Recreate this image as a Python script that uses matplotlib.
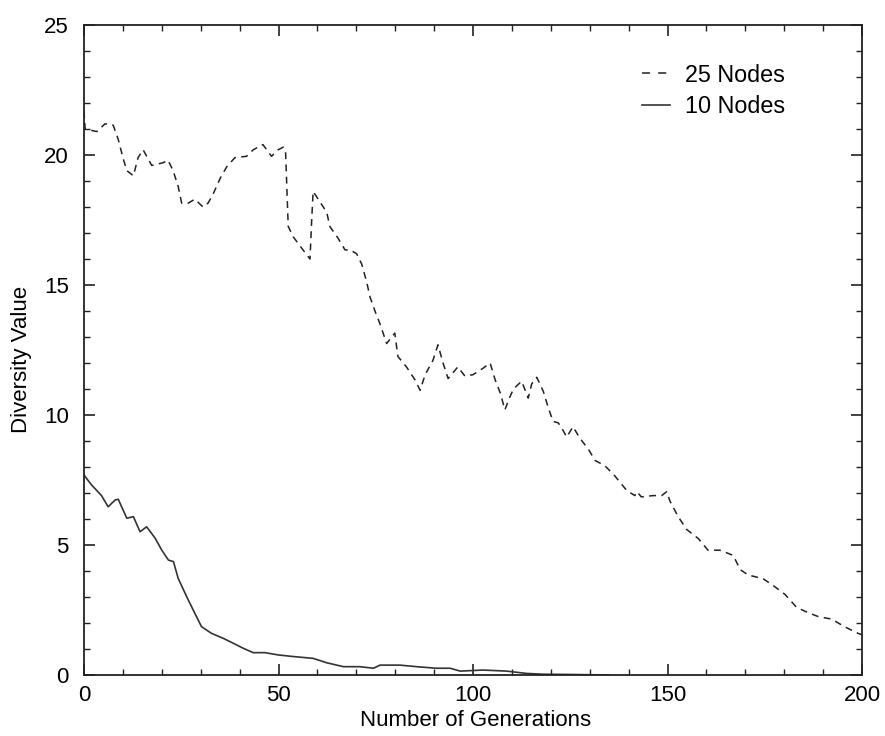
import matplotlib
matplotlib.use("Agg")
import matplotlib.pyplot as plt
from matplotlib.ticker import MultipleLocator
from matplotlib.lines import Line2D

plt.rcParams['font.family'] = ['Liberation Sans', 'DejaVu Sans']

gen_25 = [0, 0.3, 3.3, 5.4, 7.5, 8.8, 10, 11, 12.7, 13.9,
          15.2, 17.4, 20.3, 21.6, 22.9, 24.2, 25.1, 26.8, 28.5, 30.6,
          31.9, 33.2, 35, 36.7, 38.8, 41.8, 43.5, 46, 48.2, 49.9,
          51.2, 51.8, 52.5, 53.8, 56.3, 58.1, 58.5, 58.9, 60.2, 62.4,
          63.2, 65.3, 67.1, 68.4, 70.1, 71.4, 72.7, 73.5, 74.8, 76.1,
          77.8, 79.9, 80.7, 82.9, 85.1, 86.4, 87.7, 89.7, 91, 92.3,
          93.6, 96.1, 97.9, 100, 102.6, 104.4, 105.7, 107, 108.2, 109.5,
          110.4, 112.5, 114.2, 115.1, 116.4, 118.1, 119.3, 120.6, 121.9, 122.8,
          124.1, 125.7, 127.5, 129.6, 131.4, 133.9, 136.5, 139.5, 141.6, 142.1,
          143.3, 146.3, 148.5, 149.8, 150.6, 152.7, 154.9, 157.9, 160.4, 163.5,
          166.9, 168.7, 170.7, 174.6, 177.1, 180.2, 183.2, 186.1, 188.7, 192.2,
          195.6, 199, 200]
div_25 = [21.7, 21.0, 20.9, 21.2, 21.15, 20.6, 19.9, 19.4, 19.2, 19.9,
          20.2, 19.6, 19.7, 19.8, 19.4, 18.8, 18.15, 18.15, 18.3, 18.0,
          18.15, 18.5, 19.1, 19.55, 19.9, 19.95, 20.2, 20.4, 19.95, 20.2,
          20.3, 20.2, 17.25, 16.85, 16.35, 16.0, 17.4, 18.6, 18.3, 17.8,
          17.25, 16.8, 16.35, 16.35, 16.2, 15.8, 15.1, 14.55, 14.0, 13.5,
          12.75, 13.15, 12.25, 11.85, 11.35, 10.95, 11.55, 12.1, 12.7, 12.0,
          11.4, 11.85, 11.5, 11.55, 11.8, 12.0, 11.35, 10.85, 10.2, 10.7,
          11.0, 11.3, 10.65, 11.2, 11.45, 10.9, 10.3, 9.75, 9.7, 9.5,
          9.15, 9.55, 9.1, 8.7, 8.25, 8.05, 7.65, 7.1, 6.9, 7.05,
          6.85, 6.9, 6.9, 7.05, 6.7, 6.1, 5.6, 5.25, 4.8, 4.8,
          4.6, 4.05, 3.85, 3.7, 3.45, 3.1, 2.6, 2.4, 2.25, 2.15,
          1.85, 1.6, 1.55]

gen_10 = [0, 0.3, 2, 4.5, 6.2, 8.0, 8.8, 11, 12.7, 14.4,
          16.1, 18.3, 20, 21.7, 23, 24.2, 26.4, 28.5, 30.2, 32.8,
          35.8, 38.4, 40.9, 43.5, 46.5, 50, 53.8, 58.9, 62.4, 66.7,
          70.9, 74.4, 76.1, 81.2, 85.5, 90.6, 94.1, 96.7, 102.6, 108.6,
          113.8, 118, 125, 135]
div_10 = [7.7, 7.63, 7.3, 6.9, 6.47, 6.73, 6.76, 6.03, 6.09, 5.51,
          5.7, 5.26, 4.8, 4.42, 4.36, 3.72, 3.01, 2.37, 1.86, 1.6,
          1.41, 1.22, 1.03, 0.86, 0.86, 0.77, 0.71, 0.64, 0.47, 0.32,
          0.32, 0.26, 0.38, 0.38, 0.32, 0.26, 0.26, 0.15, 0.19, 0.15,
          0.06, 0.03, 0.02, 0.0]

labels = ["25 Nodes", "10 Nodes"]

fig = plt.figure(figsize=(8.85, 7.36), dpi=100)
ax = fig.add_axes([84/885, 1-675/736, (862-84)/885, (675-25)/736])

dash_style = (0, (4.5, 3.5))
ax.plot(gen_25, div_25, color='#222222', lw=1.1, linestyle=dash_style)
ax.plot(gen_10, div_10, color='#333333', lw=1.2, linestyle='-')

ax.set_xlim(0, 200)
ax.set_ylim(0, 25)
ax.xaxis.set_major_locator(MultipleLocator(50))
ax.xaxis.set_minor_locator(MultipleLocator(10))
ax.yaxis.set_major_locator(MultipleLocator(5))
ax.yaxis.set_minor_locator(MultipleLocator(1))
ax.tick_params(which='both', direction='in', top=True, right=True, color='#222222')
ax.tick_params(which='major', length=8, width=1.2, labelsize=16)
ax.tick_params(axis='x', which='major', pad=7)
ax.tick_params(axis='y', which='major', pad=11)
ax.tick_params(which='minor', length=4, width=1.0)
for s in ax.spines.values():
    s.set_linewidth(1.3)
    s.set_color('#222222')

ax.set_xlabel("Number of Generations", fontsize=16)
ax.set_ylabel("Diversity Value", fontsize=16)
ax.xaxis.set_label_coords(0.503, -0.054)
ax.yaxis.set_label_coords(-0.067, 0.485)

handles = [Line2D([], [], color='#222222', lw=1.1, linestyle=(0, (5.3, 5.3))),
           Line2D([], [], color='#333333', lw=1.2, linestyle='-')]
ax.legend(handles, labels, loc='upper right', bbox_to_anchor=(0.913, 0.955),
          borderaxespad=0, frameon=False, fontsize=16.8,
          handlelength=1.2, handletextpad=0.65, labelspacing=0.35)

fig.savefig("out.png", dpi=100)
